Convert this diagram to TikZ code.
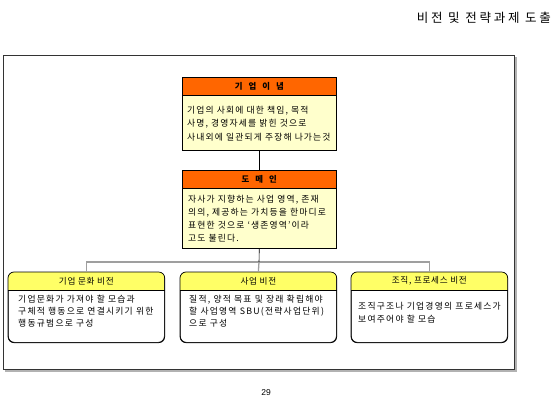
\documentclass[tikz,border=0pt]{standalone}
\usepackage{fontspec}
\setmainfont{Noto Sans CJK KR}
\newfontfamily\numfont{Liberation Sans}
\definecolor{hdrorange}{HTML}{FF6600}
\definecolor{bodyyellow}{HTML}{FFFFCC}
\definecolor{hdryellow}{HTML}{FFFF66}
\definecolor{framegray}{HTML}{333333}
\tikzset{
  bodytext/.style={anchor=north west, align=left, inner sep=0pt, font=\fontsize{8.8}{13.3}\selectfont\addfontfeature{LetterSpace=13}},
  smalltext/.style={anchor=north west, align=left, inner sep=0pt, font=\fontsize{8.8}{11.8}\selectfont\addfontfeature{LetterSpace=14}},
  orangehdr/.style={draw=black, line width=0.6pt, fill=hdrorange, minimum width=154pt, minimum height=18pt, inner sep=0pt, font=\fontsize{8.4}{10}\selectfont\bfseries},
  yellowbody/.style={draw=black, line width=0.6pt, fill=bodyyellow, minimum width=154pt, inner sep=0pt},
  visionbox/.style={draw=black, line width=0.7pt, fill=white, rounded corners=6pt, minimum width=156pt, minimum height=70pt, inner sep=0pt},
  visionhdr/.style={inner sep=0pt, font=\fontsize{8.6}{10}\selectfont\addfontfeature{LetterSpace=8}},
  conn/.style={black, line width=0.6pt},
  bar/.style={gray!75, line width=1.3pt}
}
\begin{document}
\begin{tikzpicture}[x=1pt,y=-1pt]
\useasboundingbox (0,0) rectangle (560,412);
% title
\node[anchor=east, inner sep=0pt, font=\fontsize{12.5}{14}\selectfont\addfontfeature{LetterSpace=22}] (title) at (551,18) {비전 및 전략과제 도출};
% frame
\draw[gray!60, line width=1.2pt] (5,371) -- (516,371) -- (516,57);
\draw[framegray, line width=0.8pt] (3,55) rectangle (514,369);
% top box
\node[orangehdr, anchor=north west] (h1) at (182,77) {기\hspace{6pt}업\hspace{6pt}이\hspace{6pt}념};
\node[yellowbody, anchor=north west, minimum height=55pt] (b1) at (182,95) {};
\node[bodytext] (t1) at (187,106) {기업의 사회에 대한 책임, 목적\\사명, 경영자세를 밝힌 것으로\\사내외에 일관되게 주장해 나가는것};
% domain box
\node[orangehdr, anchor=north west] (h2) at (182,170) {도\hspace{6pt}메\hspace{6pt}인};
\node[yellowbody, anchor=north west, minimum height=60pt] (b2) at (182,188) {};
\node[bodytext, font=\fontsize{8.8}{13}\selectfont\addfontfeature{LetterSpace=13}] (t2) at (188,195) {자사가 지향하는 사업 영역, 존재\\의의, 제공하는 가치등을 한마디로\\표현한 것으로 `생존영역'이라\\고도 불린다.};
% connectors top
\draw[conn] (b1.south) -- (h2.north);
\coordinate (jn) at (259,262);
% bottom boxes
\node[visionbox, anchor=north west] (c1) at (8,272) {};
\node[visionbox, anchor=north west] (c2) at (180,272) {};
\node[visionbox, anchor=north west] (c3) at (351,272) {};
\foreach \c in {c1,c2,c3}{
  \begin{scope}
    \clip[rounded corners=6pt] (\c.north west) rectangle (\c.south east);
    \fill[hdryellow] (\c.north west) rectangle ([yshift=-18pt]\c.north east);
  \end{scope}
  \draw[black, line width=0.6pt] ([yshift=-18pt]\c.north west) -- ([yshift=-18pt]\c.north east);
  \draw[black, line width=0.7pt, rounded corners=6pt] (\c.north west) rectangle (\c.south east);
}
\node[visionhdr] (v1) at ([yshift=-9pt]c1.north) {기업 문화 비전};
\node[visionhdr] (v2) at ([yshift=-9pt]c2.north) {사업 비전};
\node[visionhdr] (v3) at ([yshift=-9pt]c3.north) {조직, 프로세스 비전};
\node[smalltext] (s1) at (18,295) {기업문화가 가져야 할 모습과\\구체적 행동으로 연결시키기 위한\\행동규범으로 구성};
\node[smalltext] (s2) at (189,295) {질적, 양적 목표 및 장래 확립해야\\할 사업영역 SBU(전략사업단위)\\으로 구성};
\node[smalltext, font=\fontsize{8.8}{13.5}\selectfont\addfontfeature{LetterSpace=14}] (s3) at (358,302) {조직구조나 기업경영의 프로세스가\\보여주어야 할 모습};
% connectors bottom
\draw[bar] (c1.north) |- (jn) -| (c3.north);
\draw[bar] (jn) -- (c2.north);
\draw[conn] (b2.south) -- (jn);
% page number
\node[inner sep=0pt, font=\numfont\fontsize{8.5}{10}\selectfont] (pg) at (266,393) {29};
\end{tikzpicture}
\end{document}
